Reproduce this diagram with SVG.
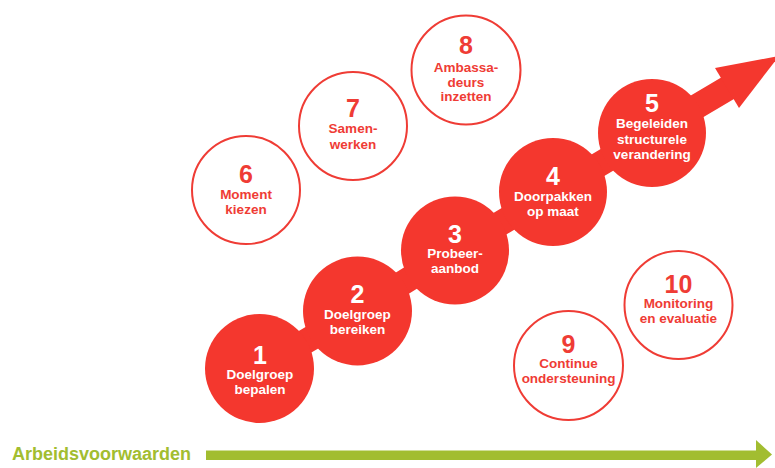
<svg xmlns="http://www.w3.org/2000/svg" width="775" height="468" viewBox="0 0 775 468">
  <style>
    .chain { fill: none; stroke: #f4372e; stroke-width: 25; stroke-linejoin: round; }
    .head { fill: #f4372e; }
    .filled { fill: #f4372e; }
    .ring { fill: #ffffff; stroke: #ef3c35; stroke-width: 2; }
    text { font-family: "Liberation Sans", Arial, sans-serif; font-weight: bold; text-anchor: middle; }
    .num { font-size: 25px; }
    .lbl { font-size: 13.5px; }
    .w { fill: #ffffff; }
    .r { fill: #ef3c35; }
    .green { fill: #a2bd30; }
  </style>
  <rect width="775" height="468" fill="#ffffff"/>

  <!-- chain linking steps 1-5 and the rising arrow -->
  <g id="connectors">
    <polyline class="chain" points="259.5,368.5 357.5,311 455,250.5 553,192 652,133 728,88"/>
    <polygon class="head" points="715,68 779,56 739,108"/>
  </g>

  <g id="node-1">
    <circle class="filled" cx="259.5" cy="368.5" r="54.5"/>
    <text class="num w" x="260" y="364">1</text>
    <text class="lbl w" x="260" y="379">Doelgroep</text>
    <text class="lbl w" x="260" y="394">bepalen</text>
  </g>
  <g id="node-2">
    <circle class="filled" cx="357.5" cy="311" r="54.5"/>
    <text class="num w" x="357.5" y="303">2</text>
    <text class="lbl w" x="357.5" y="319">Doelgroep</text>
    <text class="lbl w" x="357.5" y="334">bereiken</text>
  </g>
  <g id="node-3">
    <circle class="filled" cx="455" cy="250.5" r="54"/>
    <text class="num w" x="455" y="243">3</text>
    <text class="lbl w" x="455" y="258">Probeer-</text>
    <text class="lbl w" x="455" y="273">aanbod</text>
  </g>
  <g id="node-4">
    <circle class="filled" cx="553" cy="192" r="54"/>
    <text class="num w" x="553" y="185">4</text>
    <text class="lbl w" x="553" y="201">Doorpakken</text>
    <text class="lbl w" x="553" y="216">op maat</text>
  </g>
  <g id="node-5">
    <circle class="filled" cx="652" cy="133" r="54"/>
    <text class="num w" x="652" y="111.5">5</text>
    <text class="lbl w" x="652" y="128">Begeleiden</text>
    <text class="lbl w" x="652" y="144">structurele</text>
    <text class="lbl w" x="652" y="159">verandering</text>
  </g>

  <g id="node-6">
    <circle class="ring" cx="246" cy="190" r="54"/>
    <text class="num r" x="246" y="183">6</text>
    <text class="lbl r" x="246" y="199">Moment</text>
    <text class="lbl r" x="246" y="214">kiezen</text>
  </g>
  <g id="node-7">
    <circle class="ring" cx="353" cy="126" r="54"/>
    <text class="num r" x="353" y="117">7</text>
    <text class="lbl r" x="353" y="133">Samen-</text>
    <text class="lbl r" x="353" y="149">werken</text>
  </g>
  <g id="node-8">
    <circle class="ring" cx="466" cy="70" r="54.5"/>
    <text class="num r" x="466" y="54">8</text>
    <text class="lbl r" x="466" y="72">Ambassa-</text>
    <text class="lbl r" x="466" y="87">deurs</text>
    <text class="lbl r" x="466" y="101">inzetten</text>
  </g>
  <g id="node-9">
    <circle class="ring" cx="568.5" cy="365.5" r="54.5"/>
    <text class="num r" x="568.5" y="353">9</text>
    <text class="lbl r" x="568.5" y="368">Continue</text>
    <text class="lbl r" x="568.5" y="383">ondersteuning</text>
  </g>
  <g id="node-10">
    <circle class="ring" cx="678.5" cy="305" r="54"/>
    <text class="num r" x="678.5" y="293">10</text>
    <text class="lbl r" x="678.5" y="308">Monitoring</text>
    <text class="lbl r" x="678.5" y="323">en evaluatie</text>
  </g>

  <!-- baseline arrow along the bottom -->
  <g id="arbeidsvoorwaarden">
    <text class="green" x="12" y="460" style="font-size:18px;text-anchor:start" textLength="179" lengthAdjust="spacingAndGlyphs">Arbeidsvoorwaarden</text>
    <rect class="green" x="206" y="450.5" width="551" height="9.5"/>
    <polygon class="green" points="756,440 772,454.5 756,468"/>
  </g>
</svg>
